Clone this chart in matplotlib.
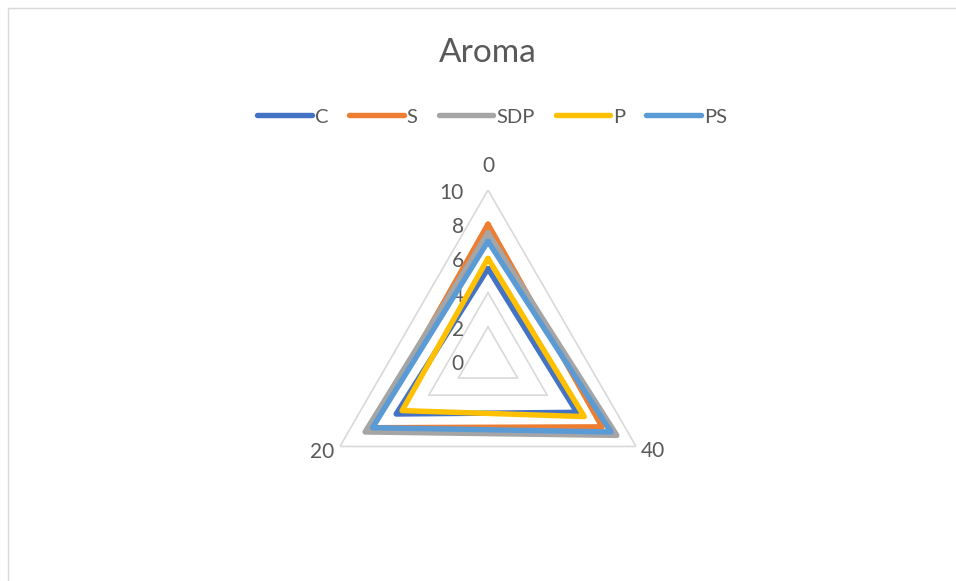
import numpy as np
import matplotlib
matplotlib.use("Agg")
import matplotlib.pyplot as plt
from matplotlib.transforms import offset_copy
from matplotlib.patches import Rectangle

plt.rcParams['font.family'] = ['Lato', 'DejaVu Sans']

title = "Aroma"
categories = ["0", "40", "20"]
series_names = ["C", "S", "SDP", "P", "PS"]
C = [5.4, 6.0, 6.2]
S = [8.0, 7.7, 7.8]
SDP = [7.5, 8.7, 8.3]
P = [6.0, 6.5, 5.8]
PS = [7.0, 8.3, 7.8]
series_values = [C, S, SDP, P, PS]
colors = ["#4472C4", "#ED7D31", "#A5A5A5", "#FFC000", "#5B9BD5"]
r_ticks = [0, 2, 4, 6, 8, 10]

W, H = 956, 581
fig = plt.figure(figsize=(W / 100, H / 100), dpi=100)
fig.patch.set_facecolor("white")

# chart border
fig.patches.append(Rectangle((8 / W, -0.1), 1.2, 1 - 8 / H + 0.1, transform=fig.transFigure,
                             fill=False, edgecolor="#D9D9D9", linewidth=1.0))

cx, cy, R = 488, 361, 171
ax = fig.add_axes([(cx - R) / W, 1 - (cy + R) / H, 2 * R / W, 2 * R / H], projection="polar")
ax.set_theta_zero_location("N")
ax.set_theta_direction(-1)
ax.set_ylim(0, 10)
ax.grid(False)
ax.spines["polar"].set_visible(False)
ax.set_xticks([])
ax.set_yticks([])
ax.patch.set_alpha(0)

n = len(categories)
angles = np.linspace(0, 2 * np.pi, n, endpoint=False)
ang_closed = np.concatenate([angles, angles[:1]])

# grid triangles
for v in r_ticks[1:]:
    ax.plot(ang_closed, [v] * (n + 1), color="#D9D9D9", lw=1.2, zorder=1)

text_color = "#595959"
# radial labels
for v in r_ticks:
    tr = offset_copy(ax.transData, fig=fig, x=-24, y=-3, units="dots")
    ax.text(0, v, str(v), transform=tr, ha="right", va="center", fontsize=15, color=text_color)

# category labels
cat_offsets = [(0, 24), (17, -5), (-18, -5)]
for a, lab, (dx, dy) in zip(angles, categories, cat_offsets):
    tr = offset_copy(ax.transData, fig=fig, x=dx, y=dy, units="dots")
    ax.text(a, 10, lab, transform=tr, ha="center", va="center", fontsize=15, color=text_color)

handles = []
for name, vals, col in zip(series_names, series_values, colors):
    v = np.concatenate([vals, vals[:1]])
    h, = ax.plot(ang_closed, v, color=col, lw=3.9, solid_joinstyle="round",
                 solid_capstyle="round", label=name, zorder=3)
    handles.append(h)

fig.text(488 / W, 1 - 53 / H, title, ha="center", va="center", fontsize=24, color=text_color)

leg = fig.legend(handles=handles, loc="center", bbox_to_anchor=(492 / W, 1 - 117 / H), ncol=5,
                 frameon=False, fontsize=14.5, handlelength=2.7, handletextpad=0.15,
                 columnspacing=1.05, labelcolor=text_color)

fig.savefig("out.png", dpi=100, facecolor="white")
